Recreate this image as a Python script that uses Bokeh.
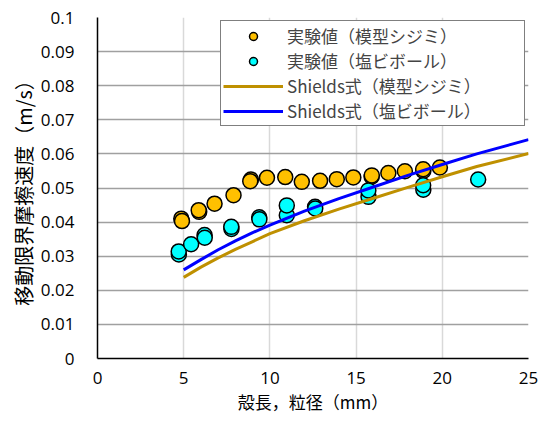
from bokeh.plotting import figure
from bokeh.models import (Range1d, FixedTicker, CustomJSTickFormatter, Legend, LegendItem)
from bokeh.embed import file_html
from bokeh.resources import INLINE

# experimental values: model shijimi (shell length)
shijimi_x = [4.86, 4.9, 5.9, 5.87, 6.79, 7.89, 8.9, 8.86, 9.83, 10.89, 11.85, 12.91,
             13.88, 14.84, 15.9, 15.91, 16.87, 17.83, 18.9, 18.89, 19.86]
shijimi_y = [0.0410, 0.0403, 0.0430, 0.0435, 0.0454, 0.0479, 0.0525, 0.0520, 0.0530,
             0.0532, 0.0518, 0.0521, 0.0526, 0.0531, 0.0533, 0.0537, 0.0544, 0.0549,
             0.0550, 0.0555, 0.0560]

# experimental values: PVC balls (grain size)
ball_x = [4.72, 4.71, 5.43, 6.21, 6.22, 7.77, 7.76, 9.38, 9.39, 10.98, 10.98,
          12.62, 12.63, 15.72, 15.71, 18.9, 18.89, 22.08]
ball_y = [0.0305, 0.0314, 0.0335, 0.0362, 0.0354, 0.0380, 0.0386, 0.0414, 0.0408,
          0.0420, 0.0449, 0.0445, 0.0440, 0.0474, 0.0493, 0.0495, 0.0508, 0.0525]

# Shields formula curves
shields_x = [5, 6, 7, 8, 9, 10, 12, 14, 16, 18, 20, 22, 25]
shields_shijimi = [0.0238, 0.0268, 0.0295, 0.0320, 0.0343, 0.0366, 0.0404, 0.0438,
                   0.0470, 0.0502, 0.0533, 0.0563, 0.0601]
shields_ball = [0.0260, 0.0290, 0.0319, 0.0345, 0.0369, 0.0391, 0.0432, 0.0469,
                0.0503, 0.0537, 0.0569, 0.0600, 0.0642]

x_ticks = [0, 5, 10, 15, 20, 25]
y_ticks = [0, 0.01, 0.02, 0.03, 0.04, 0.05, 0.06, 0.07, 0.08, 0.09, 0.1]

labels = ["実験値（模型シジミ）", "実験値（塩ビボール）",
          "Shields式（模型シジミ）", "Shields式（塩ビボール）"]

JP = "Noto Sans CJK JP"
NUM = "Open Sans"

p = figure(width=545, height=423, output_backend="svg", toolbar_location=None,
           x_range=Range1d(0, 25), y_range=Range1d(0, 0.1),
           min_border_left=97, min_border_right=17, min_border_top=17,
           min_border_bottom=65)
p.outline_line_color = None
p.background_fill_color = "white"
p.border_fill_color = "white"

r1 = p.scatter(shijimi_x, shijimi_y, size=15, fill_color="#FFC000",
               line_color="black", line_width=1.5)
r2 = p.scatter(ball_x, ball_y, size=15, fill_color="#00FFFF",
               line_color="black", line_width=1.5)
r3 = p.line(shields_x, shields_shijimi, line_color="#BF9000", line_width=3)
r4 = p.line(shields_x, shields_ball, line_color="#0000FF", line_width=3)

for ax in (p.xaxis[0], p.yaxis[0]):
    ax.axis_line_color = "black"
    ax.axis_line_width = 1.5
    ax.major_tick_line_color = None
    ax.minor_tick_line_color = None
    ax.major_label_text_font = NUM
    ax.major_label_text_font_size = "17px"
    ax.major_label_text_color = "black"
    ax.axis_label_text_font = JP
    ax.axis_label_text_font_style = "normal"
    ax.axis_label_text_color = "black"

p.xaxis.axis_label_text_font_size = "17px"
p.yaxis.axis_label_text_font_size = "20px"
p.xaxis.ticker = FixedTicker(ticks=x_ticks)
p.yaxis.ticker = FixedTicker(ticks=y_ticks)
p.yaxis.formatter = CustomJSTickFormatter(
    code="return tick.toFixed(2).replace(/0+$/,'').replace(/\\.$/,'');")
p.xaxis.major_label_standoff = 7
p.yaxis.major_label_standoff = 17
p.xaxis.axis_label = "殻長，粒径（mm）"
p.yaxis.axis_label = "移動限界摩擦速度（m/s）"
p.xaxis.axis_label_standoff = 2
p.yaxis.axis_label_standoff = 0

p.xgrid.grid_line_color = "#D9D9D9"
p.xgrid.grid_line_width = 1.5
p.ygrid.grid_line_color = "#A0A0A0"
p.ygrid.grid_line_width = 1.5

legend = Legend(items=[LegendItem(label=labels[0], renderers=[r1]),
                       LegendItem(label=labels[1], renderers=[r2]),
                       LegendItem(label=labels[2], renderers=[r3]),
                       LegendItem(label=labels[3], renderers=[r4])],
                location="top_right", margin=3, padding=2, spacing=0,
                label_height=20, glyph_height=20, glyph_width=60,
                label_width=235, label_standoff=4,
                label_text_font=JP, label_text_font_size="17px",
                label_text_line_height=0.8,
                border_line_color="black", border_line_width=1.5,
                background_fill_color="white", background_fill_alpha=1.0)
p.add_layout(legend)

open("out.html", "w").write(file_html(p, INLINE))
